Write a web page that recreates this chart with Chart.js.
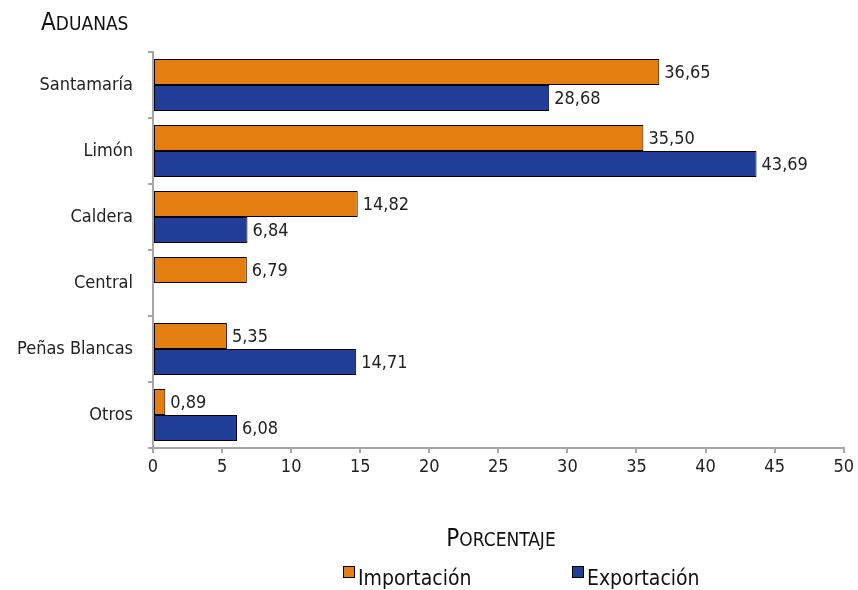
<!DOCTYPE html>
<html lang="es">
<head>
<meta charset="UTF-8">
<title>Aduanas</title>
<script src="https://cdn.jsdelivr.net/npm/chart.js"></script>
<style>
    html, body { margin: 0; padding: 0; background: #fff; }
    #wrap { width: 858px; height: 590px; position: relative; }
</style>
</head>
<body>
<div id="wrap">
    <canvas id="aduanasChart"></canvas>
</div>
<script>
    // datos
    var aduanas = ['Santamaría', 'Limón', 'Caldera', 'Central', 'Peñas Blancas', 'Otros'];
    var importacion = [36.65, 35.50, 14.82, 6.79, 5.35, 0.89];
    var exportacion = [28.68, 43.69, 6.84, null, 14.71, 6.08];
    var xTicks = [0, 5, 10, 15, 20, 25, 30, 35, 40, 45, 50];

    var fuente = "'DejaVu Sans Condensed', 'Liberation Sans Narrow', sans-serif";
    var naranja = '#E47E10';
    var azul = '#213F98';
    var gris = '#a6a6a6';

    // versalitas a mano: primera letra grande, resto en mayúsculas pequeñas
    function versalitas(ctx, texto, x, y, grande, chica, centro) {
        var primera = texto.charAt(0).toUpperCase();
        var resto = texto.slice(1).toUpperCase();
        ctx.font = grande + 'px ' + fuente;
        var w1 = ctx.measureText(primera).width;
        ctx.font = chica + 'px ' + fuente;
        var w2 = ctx.measureText(resto).width;
        var x0 = centro ? x - (w1 + w2) / 2 : x;
        ctx.textAlign = 'left';
        ctx.font = grande + 'px ' + fuente;
        ctx.fillText(primera, x0, y);
        ctx.font = chica + 'px ' + fuente;
        ctx.fillText(resto, x0 + w1, y);
    }

    // etiquetas de valor al final de cada barra
    var etiquetas = {
        id: 'etiquetas',
        afterDatasetsDraw: function(chart) {
            var ctx = chart.ctx;
            ctx.save();
            ctx.font = '18px ' + fuente;
            ctx.fillStyle = '#222';
            ctx.textAlign = 'left';
            ctx.textBaseline = 'middle';
            chart.data.datasets.forEach(function(ds, i) {
                chart.getDatasetMeta(i).data.forEach(function(bar, j) {
                    var v = ds.data[j];
                    if (v === null) return;
                    ctx.fillText(v.toFixed(2).replace('.', ','), bar.x + 5, bar.y + 1);
                });
            });
            ctx.restore();
        }
    };

    // títulos y leyenda
    var extras = {
        id: 'extras',
        afterDraw: function(chart) {
            var ctx = chart.ctx;
            ctx.save();
            ctx.fillStyle = '#111';
            ctx.textBaseline = 'alphabetic';
            versalitas(ctx, 'Aduanas', 41, 30, 24, 19, false);
            versalitas(ctx, 'Porcentaje', 501, 546, 24, 19, true);

            ctx.font = '21px ' + fuente;
            ctx.textAlign = 'left';
            var items = [
                { text: 'Importación', color: naranja, x: 343 },
                { text: 'Exportación', color: azul, x: 572 }
            ];
            items.forEach(function(it) {
                ctx.fillStyle = it.color;
                ctx.fillRect(it.x, 566, 11, 11);
                ctx.strokeStyle = '#000';
                ctx.lineWidth = 1;
                ctx.strokeRect(it.x + 0.5, 566.5, 11, 11);
                ctx.fillStyle = '#111';
                ctx.fillText(it.text, it.x + 15, 585);
            });
            ctx.restore();
        }
    };

    var ctx = document.getElementById('aduanasChart').getContext('2d');
    var chart = new Chart(ctx, {
        type: 'bar',
        data: {
            labels: aduanas,
            datasets: [{
                label: 'Importación',
                data: importacion,
                backgroundColor: naranja,
                borderColor: '#000',
                borderWidth: 1,
                borderSkipped: false
            }, {
                label: 'Exportación',
                data: exportacion,
                backgroundColor: azul,
                borderColor: '#000',
                borderWidth: 1,
                borderSkipped: false
            }]
        },
        options: {
            indexAxis: 'y',
            responsive: true,
            maintainAspectRatio: false,
            animation: false,
            barPercentage: 1,
            categoryPercentage: 0.79,
            layout: {
                padding: { top: 52, right: 13, bottom: 42, left: 0 }
            },
            plugins: {
                legend: { display: false },
                title: { display: false },
                tooltip: { enabled: false }
            },
            scales: {
                y: {
                    afterFit: function(scale) { scale.width = 153; },
                    border: { color: gris, width: 2 },
                    grid: {
                        offset: true,
                        drawOnChartArea: false,
                        tickLength: 5,
                        lineWidth: 2,
                        color: gris
                    },
                    ticks: {
                        padding: 15,
                        color: '#222',
                        font: { family: fuente, size: 18 }
                    }
                },
                x: {
                    min: 0,
                    max: 50,
                    afterFit: function(scale) { scale.height = 100; },
                    afterBuildTicks: function(scale) {
                        scale.ticks = xTicks.map(function(v) { return { value: v }; });
                    },
                    border: { color: gris, width: 2 },
                    grid: {
                        drawOnChartArea: false,
                        tickLength: 5,
                        lineWidth: 2,
                        color: gris
                    },
                    ticks: {
                        padding: 4,
                        color: '#222',
                        font: { family: fuente, size: 18 }
                    },
                    title: { display: false }
                }
            }
        },
        plugins: [etiquetas, extras]
    });
</script>
</body>
</html>
